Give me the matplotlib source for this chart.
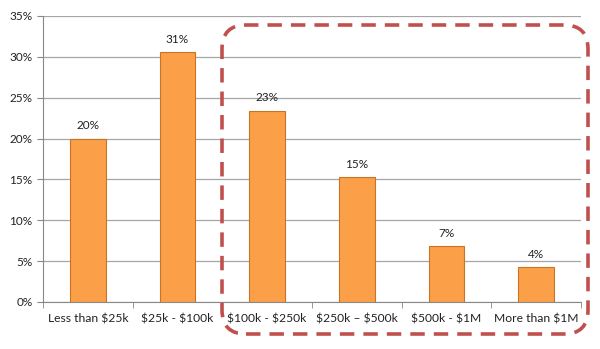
import matplotlib.pyplot as plt
from matplotlib.patches import FancyBboxPatch
from matplotlib.ticker import PercentFormatter

# data
categories = ['Less than $25k', '$25k - $100k', '$100k - $250k',
              '$250k \u2013 $500k', '$500k - $1M', 'More than $1M']
shares = [20.0, 30.6, 23.4, 15.3, 6.85, 4.3]
labels = ['20%', '31%', '23%', '15%', '7%', '4%']

plt.rcParams['font.family'] = ['Lato', 'DejaVu Sans']
plt.rcParams['text.parse_math'] = False

fig = plt.figure(figsize=(6, 3.49), dpi=100)
ax = fig.add_axes([43 / 600, 1 - 302 / 349, 538 / 600, 286 / 349])

x = range(len(categories))
bars = ax.bar(x, shares, width=0.4, color='#FB9F48', edgecolor='#C87426',
              linewidth=0.8, zorder=3)
for b, t in zip(bars, labels):
    ax.text(b.get_x() + b.get_width() / 2, b.get_height() + 0.9, t,
            ha='center', va='bottom', fontsize=8.5, color='#222222')

ax.set_xlim(-0.5, len(categories) - 0.5)
ax.set_ylim(0, 35)
ax.set_yticks(range(0, 36, 5))
ax.yaxis.set_major_formatter(PercentFormatter(decimals=0))
ax.set_xticks(x)
ax.set_xticklabels(categories, fontsize=8.7, color='#222222')
ax.set_xticks([i + 0.5 for i in range(-1, len(categories))], minor=True)
ax.tick_params(axis='x', which='major', length=0, pad=8)
ax.tick_params(axis='x', which='minor', length=4, color='#888888')
ax.tick_params(axis='y', length=4, color='#888888', labelsize=8.5,
               labelcolor='#222222')
ax.grid(axis='y', color='#A6A6A6', linewidth=0.9, zorder=0)
for s in ['top', 'right']:
    ax.spines[s].set_visible(False)
for s in ['left', 'bottom']:
    ax.spines[s].set_color('#888888')

# dashed highlight box around the upper bands
box = FancyBboxPatch((222 / 600, 1 - 334 / 349), 366 / 600, 309 / 349,
                     boxstyle='round,pad=0,rounding_size=0.04',
                     transform=fig.transFigure, fill=False,
                     edgecolor='#C0504D', linewidth=2.6,
                     linestyle=(0, (4, 2.5)), clip_on=False, zorder=5,
                     mutation_aspect=600 / 349)
fig.patches.append(box)

fig.savefig('out.png', dpi=100)
